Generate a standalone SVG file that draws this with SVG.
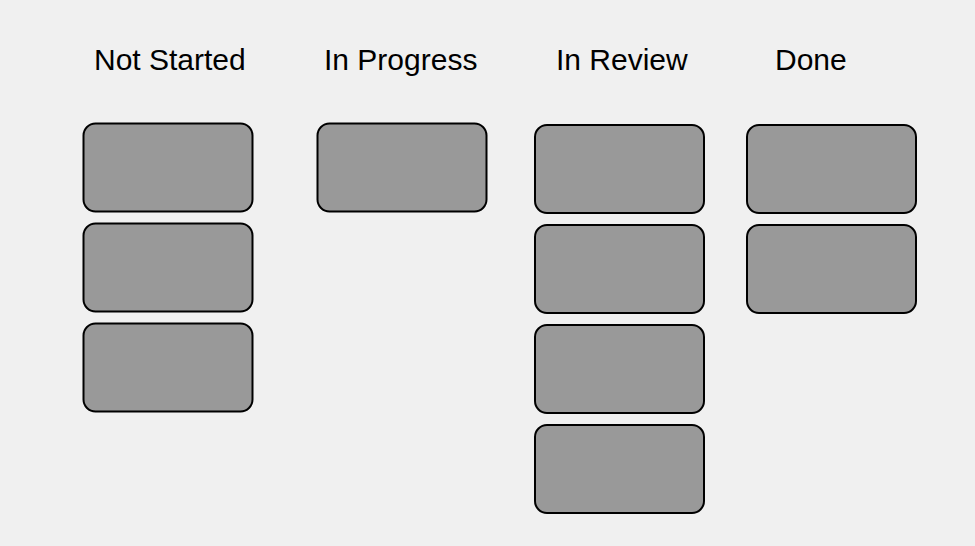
<svg xmlns="http://www.w3.org/2000/svg" width="975" height="546" viewBox="0 0 975 546">
<style>
.bg{fill:#f0f0f0}
.card{fill:#999999;stroke:#000;stroke-width:2}
.h{font-family:"Liberation Sans",Arial,sans-serif;font-size:30px;fill:#000}
</style>
<rect class="bg" x="0" y="0" width="975" height="546"/>
<g id="col-not-started">
<text class="h" x="94" y="70">Not Started</text>
<rect class="card" x="83.5" y="123.5" width="169" height="88" rx="12"/>
<rect class="card" x="83.5" y="223.5" width="169" height="88" rx="12"/>
<rect class="card" x="83.5" y="323.5" width="169" height="88" rx="12"/>
</g>
<g id="col-in-progress">
<text class="h" x="324" y="70">In Progress</text>
<rect class="card" x="317.5" y="123.5" width="169" height="88" rx="12"/>
</g>
<g id="col-in-review">
<text class="h" x="556" y="70">In Review</text>
<rect class="card" x="535" y="125" width="169" height="88" rx="12"/>
<rect class="card" x="535" y="225" width="169" height="88" rx="12"/>
<rect class="card" x="535" y="325" width="169" height="88" rx="12"/>
<rect class="card" x="535" y="425" width="169" height="88" rx="12"/>
</g>
<g id="col-done">
<text class="h" x="775" y="70">Done</text>
<rect class="card" x="747" y="125" width="169" height="88" rx="12"/>
<rect class="card" x="747" y="225" width="169" height="88" rx="12"/>
</g>
<g id="connectors"/>
</svg>
